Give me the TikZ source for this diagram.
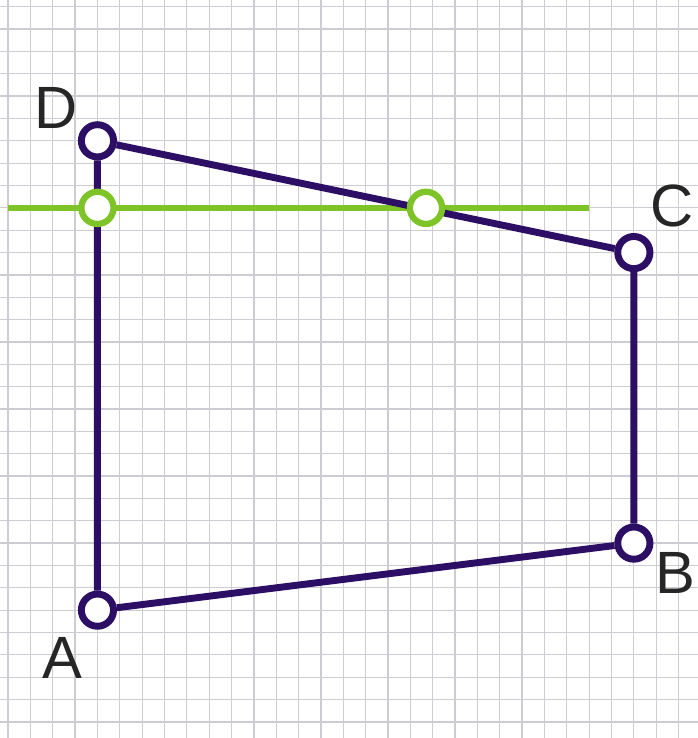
\documentclass[tikz,border=0pt]{standalone}
\usepackage{fontspec}
\setsansfont{Liberation Sans}
\usetikzlibrary{shapes,calc}
\definecolor{quadline}{RGB}{44,14,100}
\definecolor{cutline}{RGB}{126,196,40}
\definecolor{gridgray}{RGB}{204,204,210}
\tikzset{
  gridline/.style={gridgray,line width=0.8pt},
  pt/.style={circle,draw=quadline,line width=4.4pt,fill=white,minimum size=20.5pt,inner sep=0pt},
  cutpt/.style={pt,draw=cutline,line width=4pt},
  lbl/.style={inner sep=0pt,font=\sffamily\fontsize{38}{38}\selectfont,text=black!85}
}
\begin{document}
\begin{tikzpicture}[x=5mm,y=-5mm]
  \useasboundingbox (-0.36,-0.3) rectangle (30.87,32.72);
  \foreach \i in {0,...,30}
    \draw[gridline] (\i,-0.3) -- (\i,32.72);
  \foreach \j in {0,...,32}
    \draw[gridline] (-0.36,\j) -- (30.87,\j);
  \coordinate (L) at (0,9);
  \coordinate (R) at (26,9);
  \draw[cutline,line width=3.8pt] (L) -- (R);
  \node[pt] (A) at (4,27) {};
  \node[pt] (B) at (28,24) {};
  \node[pt] (C) at (28,11) {};
  \node[pt] (D) at (4,6) {};
  \draw[quadline,line width=4.4pt] (A) -- (B) -- (C) -- (D) -- (A);
  \node[cutpt] (E) at (4,9) {};
  \node[cutpt] (F) at (18.7,9) {};
  \node[lbl] (lA) at (2.42,29.14) {A};
  \node[lbl] (lB) at (29.86,25.35) {B};
  \node[lbl] (lC) at (29.73,8.91) {C};
  \node[lbl] (lD) at (2.14,4.52) {D};
\end{tikzpicture}
\end{document}
